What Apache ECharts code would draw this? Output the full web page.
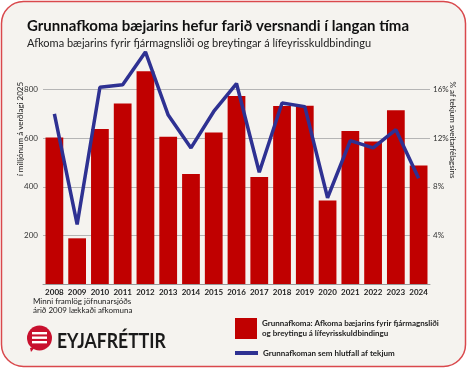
<!DOCTYPE html>
<html><head><meta charset="utf-8">
<script src="https://cdn.jsdelivr.net/npm/echarts@6/dist/echarts.min.js"></script>
<style>html,body{margin:0;padding:0;background:#fff}#c{width:467px;height:368px}</style>
</head><body><div id="c"></div>
<script>
const years = ['2008','2009','2010','2011','2012','2013','2014','2015','2016','2017','2018','2019','2020','2021','2022','2023','2024'];
const grunnafkoma = [603, 188, 638, 743, 876, 606, 453, 623, 774, 440, 732, 734, 344, 630, 586, 715, 488];
const hlutfall = [14.0, 4.9, 16.2, 16.4, 19.1, 13.9, 11.2, 14.2, 16.5, 9.2, 14.9, 14.6, 7.1, 11.8, 11.2, 12.7, 8.7];
const leftTicks = [200, 400, 600, 800];
const rightTicks = [4, 8, 12, 16];
const barName = 'Grunnafkoma: Afkoma bæjarins fyrir fjármagnsliði\nog breytingu á lífeyrisskuldbindingu';
const lineName = 'Grunnafkoman sem hlutfall af tekjum';
const FONT = 'Lato';

const chart = echarts.init(document.getElementById('c'), null, {renderer: 'canvas'});
chart.setOption({
  animation: false,
  backgroundColor: '#ffffff',
  textStyle: {fontFamily: FONT},
  graphic: [
    {type: 'rect', z: -10, silent: true, shape: {x: 1.5, y: 1.5, width: 464, height: 365, r: 22},
     style: {fill: '#f5f3ef', stroke: '#d9484c', lineWidth: 1.5}},
    {type: 'text', left: 27, top: 19, style: {text: 'Grunnafkoma bæjarins hefur farið versnandi í langan tíma', font: 'bold 15px ' + FONT, fill: '#111'}},
    {type: 'text', left: 27, top: 38, style: {text: 'Afkoma bæjarins fyrir fjármagnsliði og breytingar á lífeyrisskuldbindingu', font: '11px ' + FONT, fill: '#222'}},
    {type: 'text', x: 20, y: 129, rotation: Math.PI / 2, style: {text: 'í milljónum á verðlagi 2025', font: '8px ' + FONT, fill: '#222', align: 'center', verticalAlign: 'middle'}},
    {type: 'text', x: 453, y: 130, rotation: -Math.PI / 2, style: {text: '% af tekjum sveitarfélagsins', font: '8px ' + FONT, fill: '#222', align: 'center', verticalAlign: 'middle'}},
    {type: 'text', left: 33, top: 297, style: {text: 'Minni framlög jöfnunarsjóðs\nárið 2009 lækkaði afkomuna', font: '8px ' + FONT, fill: '#222', lineHeight: 9}},
    {type: 'circle', shape: {cx: 39.5, cy: 338, r: 12.5}, style: {fill: '#c8102e'}},
    {type: 'polygon', shape: {points: [[30, 348], [36, 346], [31, 352]]}, style: {fill: '#c8102e'}},
    {type: 'rect', shape: {x: 32, y: 332, width: 15, height: 2.4}, style: {fill: '#fff'}},
    {type: 'rect', shape: {x: 32, y: 336.5, width: 15, height: 2.4}, style: {fill: '#fff'}},
    {type: 'rect', shape: {x: 32, y: 341, width: 15, height: 2.4}, style: {fill: '#fff'}},
    {type: 'text', x: 57, y: 332, scaleX: 0.88, style: {text: 'EYJAFRÉTTIR', font: 'bold 20px ' + FONT, fill: '#1a1a1a'}}
  ],
  grid: {left: 43, right: 37, top: 41, bottom: 84, containLabel: false},
  legend: [
    {data: [barName], left: 230, top: 313, orient: 'vertical', icon: 'rect', itemWidth: 22, itemHeight: 21, itemGap: 8,
     textStyle: {fontSize: 8, fontWeight: 'bold', color: '#222', lineHeight: 10, fontFamily: FONT}},
    {data: [lineName], left: 230, top: 344, icon: 'rect', itemWidth: 23, itemHeight: 4,
     textStyle: {fontSize: 8, fontWeight: 'bold', color: '#222', fontFamily: FONT}}
  ],
  xAxis: {
    type: 'category', data: years,
    axisLine: {lineStyle: {color: '#9a9a9a', width: 1}},
    axisTick: {show: false},
    axisLabel: {fontSize: 8, fontWeight: 'bold', color: '#222', margin: 4, interval: 0}
  },
  yAxis: [
    {type: 'value', min: 0, max: 1000, interval: 200,
     axisLabel: {fontSize: 8, color: '#333', margin: 5,
       formatter: v => leftTicks.includes(v) ? String(v) : ''},
     splitLine: {show: true, showMinLine: false, showMaxLine: false, lineStyle: {color: '#b5b5b5', width: 1}},
     axisLine: {show: false}, axisTick: {show: false}},
    {type: 'value', min: 0, max: 20, interval: 4,
     axisLabel: {fontSize: 8, color: '#333', margin: 3,
       formatter: v => rightTicks.includes(v) ? v + '%' : ''},
     splitLine: {show: false}, axisLine: {show: false}, axisTick: {show: false}}
  ],
  series: [
    {name: barName, type: 'bar', data: grunnafkoma, barWidth: '78%', yAxisIndex: 0,
     itemStyle: {color: '#c00000'}},
    {name: lineName, type: 'line', data: hlutfall, yAxisIndex: 1, symbol: 'none',
     lineStyle: {color: '#2e3192', width: 3.5}, itemStyle: {color: '#2e3192'}, z: 5}
  ]
});
</script></body></html>
